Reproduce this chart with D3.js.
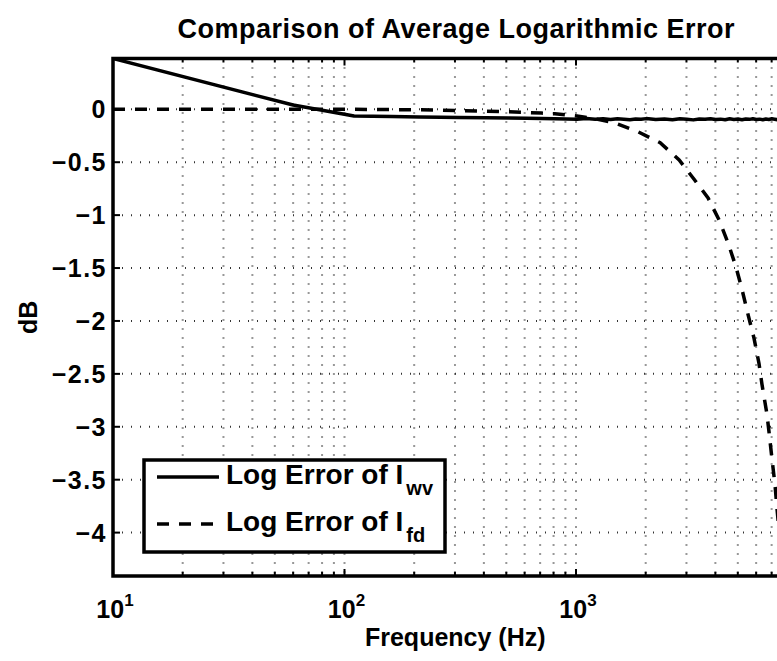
<!DOCTYPE html>
<html>
<head>
<meta charset="utf-8">
<script src="https://cdn.jsdelivr.net/npm/d3@7"></script>
<style>
  body { margin: 0; background: #fff; overflow: hidden; }
  svg { display: block; font-family: "Liberation Sans", Arial, sans-serif; font-weight: bold; }
</style>
</head>
<body>
<svg id="chart" width="777" height="661"></svg>
<script>
// wavelet-based estimate (solid)
const freqWv = [10, 60, 110, 160, 210, 260, 310, 410, 510, 610, 710, 810, 910, 1010,
  1110, 1210, 1310, 1410, 1510, 1610, 1710, 1810, 1910, 2010, 2210, 2410, 2610, 2810,
  3010, 3210, 3410, 3610, 3810, 4010, 4210, 4410, 4610, 4810, 5010, 5210, 5410, 5610,
  5810, 6010, 6210, 6410, 6610, 6810, 7010, 7210, 7410, 7610, 7810, 8010, 8510, 9010,
  9510, 10000];
const errWv = [0.48, 0.04, -0.063, -0.068, -0.072, -0.075, -0.077, -0.080, -0.083, -0.085,
  -0.087, -0.089, -0.091, -0.093,
  -0.088, -0.094, -0.090, -0.097, -0.089, -0.093, -0.099, -0.091, -0.095, -0.088,
  -0.096, -0.092, -0.098, -0.090, -0.094, -0.100, -0.091, -0.095, -0.089, -0.097,
  -0.093, -0.099, -0.090, -0.096, -0.092, -0.098, -0.091, -0.095, -0.089, -0.097,
  -0.093, -0.099, -0.092, -0.096, -0.090, -0.094, -0.098, -0.091, -0.095, -0.093,
  -0.097, -0.092, -0.096, -0.094];

// finite-difference estimate (dashed)
const freqFd = [10, 60, 110, 210, 310, 410, 510, 610, 710, 810, 910, 1010, 1210, 1460,
  1850, 2310, 2790, 3230, 3720, 4150, 4540, 4910, 5210, 5530, 5870, 6170, 6360, 6680,
  6820, 7030, 7240, 7380, 7600, 7830, 8100];
const errFd = [0, 0, 0, -0.005, -0.012, -0.018, -0.024, -0.03, -0.036, -0.043, -0.054,
  -0.064, -0.09, -0.127, -0.212, -0.316, -0.479, -0.659, -0.838, -1.046, -1.264, -1.49,
  -1.70, -1.935, -2.16, -2.40, -2.60, -2.88, -3.05, -3.31, -3.55, -3.77, -4.07, -4.45, -4.9];

const yTicks = [0, -0.5, -1, -1.5, -2, -2.5, -3, -3.5, -4];
const yTickLabels = ["0", "\u22120.5", "\u22121", "\u22121.5", "\u22122", "\u22122.5", "\u22123", "\u22123.5", "\u22124"];
const xDecades = [10, 100, 1000];
const xExponents = ["1", "2", "3"];

const svg = d3.select("#chart");
const margin = { left: 113, top: 58.5 };
const plotW = 694.5, plotH = 517.5;

const x = d3.scaleLog().domain([10, 10000]).range([margin.left, margin.left + plotW]);
const y = d3.scaleLinear().domain([-4.41, 0.48]).range([margin.top + plotH, margin.top]);

// minor positions 20..90, 200..900, ...
const minorTicks = [];
[10, 100, 1000].forEach(d => {
  for (let k = 2; k <= 9; k++) minorTicks.push(d * k);
});

svg.append("defs").append("clipPath").attr("id", "clip")
  .append("rect")
  .attr("x", margin.left).attr("y", margin.top)
  .attr("width", plotW).attr("height", plotH);

// grid
const grid = svg.append("g").attr("stroke", "#333").attr("stroke-width", 2)
  .attr("stroke-dasharray", "1,8");
grid.selectAll(".vg").data(minorTicks.concat([100, 1000])).enter().append("line")
  .attr("x1", d => x(d)).attr("x2", d => x(d))
  .attr("y1", margin.top).attr("y2", margin.top + plotH);
grid.selectAll(".hg").data(yTicks).enter().append("line")
  .attr("x1", margin.left).attr("x2", margin.left + plotW)
  .attr("y1", d => y(d)).attr("y2", d => y(d));

// curves
const line = d3.line().x(d => x(d[0])).y(d => y(d[1]));
const curves = svg.append("g").attr("clip-path", "url(#clip)");
curves.append("path")
  .attr("d", line(freqFd.map((f, i) => [f, errFd[i]])))
  .attr("fill", "none").attr("stroke", "#000").attr("stroke-width", 3.5)
  .attr("stroke-dasharray", "12,10");
curves.append("path")
  .attr("d", line(freqWv.map((f, i) => [f, errWv[i]])))
  .attr("fill", "none").attr("stroke", "#000").attr("stroke-width", 3.5)
  .attr("stroke-linejoin", "round");

// ticks (inward, box on)
const ticks = svg.append("g").attr("stroke", "#000").attr("stroke-width", 2);
const yb = margin.top + plotH, yt = margin.top;
ticks.selectAll(".xM").data(xDecades).enter().append("path")
  .attr("d", d => `M${x(d)},${yb}v-7M${x(d)},${yt}v7`);
ticks.selectAll(".xm").data(minorTicks).enter().append("path")
  .attr("d", d => `M${x(d)},${yb}v-4M${x(d)},${yt}v4`);
ticks.selectAll(".yM").data(yTicks).enter().append("path")
  .attr("d", d => `M${margin.left},${y(d)}h7`);

// axes box
svg.append("rect")
  .attr("x", margin.left).attr("y", margin.top)
  .attr("width", plotW).attr("height", plotH)
  .attr("fill", "none").attr("stroke", "#000").attr("stroke-width", 3.5);

// y tick labels
svg.append("g").selectAll("text").data(yTicks).enter().append("text")
  .attr("x", margin.left - 6).attr("y", d => y(d) + 9)
  .attr("text-anchor", "end").attr("font-size", 25).attr("letter-spacing", 1.5)
  .text((d, i) => yTickLabels[i]);

// x tick labels as 10^n
const xl = svg.append("g").selectAll("text").data(xDecades).enter().append("text")
  .attr("x", d => x(d) + 2).attr("y", 618)
  .attr("text-anchor", "middle").attr("font-size", 25);
xl.append("tspan").text("10");
xl.append("tspan").attr("dy", -12).attr("font-size", 17).text((d, i) => xExponents[i]);

// titles
svg.append("text").attr("x", margin.left + plotW / 2 - 4).attr("y", 38)
  .attr("text-anchor", "middle").attr("font-size", 27).attr("letter-spacing", 0.5)
  .text("Comparison of Average Logarithmic Error");
svg.append("text").attr("x", margin.left + plotW / 2 - 5).attr("y", 646)
  .attr("text-anchor", "middle").attr("font-size", 25)
  .text("Frequency (Hz)");
svg.append("text")
  .attr("transform", `translate(37,${margin.top + plotH / 2}) rotate(-90)`)
  .attr("text-anchor", "middle").attr("font-size", 25)
  .text("dB");

// legend
const legendItems = [
  { sub: "wv", dash: null },
  { sub: "fd", dash: "12,10" }
];
const lg = svg.append("g");
lg.append("rect").attr("x", 144).attr("y", 460).attr("width", 301).attr("height", 92)
  .attr("fill", "#fff").attr("stroke", "#000").attr("stroke-width", 3.5);
legendItems.forEach((it, i) => {
  const ly = 477 + i * 47;
  lg.append("line").attr("x1", 157).attr("x2", 219).attr("y1", ly).attr("y2", ly)
    .attr("stroke", "#000").attr("stroke-width", 3.5)
    .attr("stroke-dasharray", it.dash);
  const t = lg.append("text").attr("x", 226).attr("y", ly + 7).attr("font-size", 28);
  t.append("tspan").text("Log Error of I");
  t.append("tspan").attr("dy", 11).attr("dx", 3).attr("font-size", 20).text(it.sub);
});
</script>
</body>
</html>
